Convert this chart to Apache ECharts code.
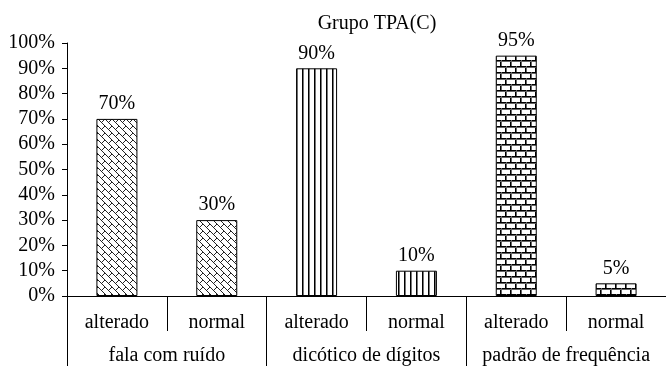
<!DOCTYPE html>
<html><head><meta charset="utf-8">
<script src="https://cdn.jsdelivr.net/npm/echarts@6/dist/echarts.min.js"></script>
<style>html,body{margin:0;padding:0;background:#fff}#c{width:666px;height:366px}</style>
</head><body><div id="c"></div>
<script>
const titleText = 'Grupo TPA(C)';
const categories = ['alterado','normal','alterado','normal','alterado','normal'];
const groups = ['fala com ruído','dicótico de dígitos','padrão de frequência'];
const values = [70, 30, 90, 10, 95, 5];
const patternOf = ['weave','weave','vlines','vlines','brick','brick'];

function mk(w,h){const c=document.createElement('canvas');c.width=w;c.height=h;const x=c.getContext('2d');x.fillStyle='#fff';x.fillRect(0,0,w,h);return [c,x];}
function weave(){
  const T=14;const [c,x]=mk(T,T);
  x.strokeStyle='#222';x.lineWidth=1;
  const segs=[];
  for(const d of [-14,-7,0,7,14]){segs.push([d,-T, d+2*T, T]);}
  const joint=(d1,d2,s)=>[(s+d1)/2,(s-d1)/2,(s+d2)/2,(s-d2)/2];
  segs.push(joint(0,7,7),joint(0,7,21),joint(7,14,14),joint(7,14,28));
  for(const s of segs){for(const ox of [-T,0,T])for(const oy of [-T,0,T]){
    x.beginPath();x.moveTo(s[0]+ox,s[1]+oy);x.lineTo(s[2]+ox,s[3]+oy);x.stroke();}}
  return c;
}
function vlines(){const [c,x]=mk(6,6);x.fillStyle='#000';x.fillRect(2,0,1,6);x.fillStyle='#777';x.fillRect(3,0,1,6);return c;}
function brick(){const [c,x]=mk(20,12);
  x.fillStyle='#000';
  x.fillRect(0,0,20,1);x.fillRect(0,6,20,1);
  x.fillRect(0,0,1,6);x.fillRect(10,0,1,6);
  x.fillRect(5,6,1,6);x.fillRect(15,6,1,6);
  x.fillStyle='#666';
  x.fillRect(0,1,20,1);x.fillRect(0,7,20,1);
  x.fillRect(1,0,1,6);x.fillRect(11,0,1,6);
  x.fillRect(6,6,1,6);x.fillRect(16,6,1,6);
  return c;}
const pats={weave:weave(),vlines:vlines(),brick:brick()};

const font='Liberation Serif, Times New Roman, serif';
const chart=echarts.init(document.getElementById('c'));
chart.setOption({
  animation:false,
  title:{text:titleText,left:372,top:9,textAlign:'center',textStyle:{fontFamily:font,fontSize:20,fontWeight:'normal',color:'#000'}},
  grid:{left:67,top:43,width:601,height:254,containLabel:false},
  xAxis:[{
    type:'category',data:categories,position:'bottom',
    axisLine:{lineStyle:{color:'#000',width:1}},
    axisTick:{show:true,interval:0,length:35,lineStyle:{color:'#000'}},
    axisLabel:{interval:0,hideOverlap:false,margin:17,fontFamily:font,fontSize:20,color:'#000'}
  },{
    type:'category',data:groups,position:'bottom',
    axisLine:{show:false},
    axisTick:{show:true,interval:0,length:70,lineStyle:{color:'#000'}},
    axisLabel:{interval:0,hideOverlap:false,margin:50,fontFamily:font,fontSize:20,color:'#000'}
  }],
  yAxis:{type:'value',min:0,max:100,interval:10,
    axisLine:{show:true,lineStyle:{color:'#000'}},
    axisTick:{show:true,length:5,lineStyle:{color:'#000'}},
    splitLine:{show:false},
    axisLabel:{margin:12,fontFamily:font,fontSize:20,color:'#000',formatter:'{value}%'}
  },
  series:[{type:'bar',xAxisIndex:0,barWidth:41,
    data:values.map((v,i)=>({value:v,itemStyle:{color:{image:pats[patternOf[i]],repeat:'repeat'},borderColor:'#000',borderWidth:1}})),
    label:{show:true,position:'top',distance:5,formatter:'{c}%',fontFamily:font,fontSize:20,color:'#000'}
  }]
});
</script></body></html>
